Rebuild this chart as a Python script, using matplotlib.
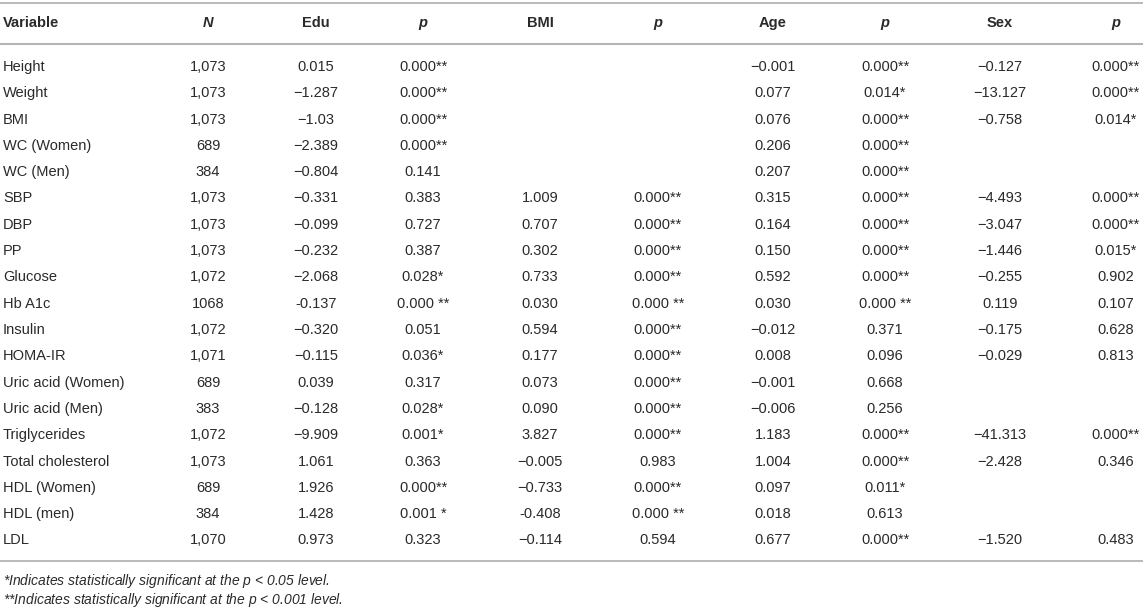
import matplotlib
matplotlib.use("Agg")
import matplotlib.pyplot as plt

variables = ["Height", "Weight", "BMI", "WC (Women)", "WC (Men)", "SBP", "DBP", "PP",
             "Glucose", "Hb A1c", "Insulin", "HOMA-IR", "Uric acid (Women)", "Uric acid (Men)",
             "Triglycerides", "Total cholesterol", "HDL (Women)", "HDL (men)", "LDL"]
n_vals = ["1,073", "1,073", "1,073", "689", "384", "1,073", "1,073", "1,073", "1,072", "1068",
          "1,072", "1,071", "689", "383", "1,072", "1,073", "689", "384", "1,070"]
edu = ["0.015", "\u22121.287", "\u22121.03", "\u22122.389", "\u22120.804", "\u22120.331", "\u22120.099",
       "\u22120.232", "\u22122.068", "-0.137", "\u22120.320", "\u22120.115", "0.039", "\u22120.128",
       "\u22129.909", "1.061", "1.926", "1.428", "0.973"]
edu_p = ["0.000**", "0.000**", "0.000**", "0.000**", "0.141", "0.383", "0.727", "0.387", "0.028*",
         "0.000 **", "0.051", "0.036*", "0.317", "0.028*", "0.001*", "0.363", "0.000**", "0.001 *", "0.323"]
bmi = ["", "", "", "", "", "1.009", "0.707", "0.302", "0.733", "0.030", "0.594", "0.177", "0.073",
       "0.090", "3.827", "\u22120.005", "\u22120.733", "-0.408", "\u22120.114"]
bmi_p = ["", "", "", "", "", "0.000**", "0.000**", "0.000**", "0.000**", "0.000 **", "0.000**",
         "0.000**", "0.000**", "0.000**", "0.000**", "0.983", "0.000**", "0.000 **", "0.594"]
age = ["\u22120.001", "0.077", "0.076", "0.206", "0.207", "0.315", "0.164", "0.150", "0.592", "0.030",
       "\u22120.012", "0.008", "\u22120.001", "\u22120.006", "1.183", "1.004", "0.097", "0.018", "0.677"]
age_p = ["0.000**", "0.014*", "0.000**", "0.000**", "0.000**", "0.000**", "0.000**", "0.000**",
         "0.000**", "0.000 **", "0.371", "0.096", "0.668", "0.256", "0.000**", "0.000**", "0.011*",
         "0.613", "0.000**"]
sex = ["\u22120.127", "\u221213.127", "\u22120.758", "", "", "\u22124.493", "\u22123.047", "\u22121.446",
       "\u22120.255", "0.119", "\u22120.175", "\u22120.029", "", "", "\u221241.313", "\u22122.428", "", "",
       "\u22121.520"]
sex_p = ["0.000**", "0.000**", "0.014*", "", "", "0.000**", "0.000**", "0.015*", "0.902", "0.107",
         "0.628", "0.813", "", "", "0.000**", "0.346", "", "", "0.483"]

headers = ["Variable", "N", "Edu", "p", "BMI", "p", "Age", "p", "Sex", "p"]
header_italic = [False, True, False, True, False, True, False, True, False, True]
footnotes = ["*Indicates statistically significant at the $p$ < 0.05 level.",
             "**Indicates statistically significant at the $p$ < 0.001 level."]

columns = [variables, n_vals, edu, edu_p, bmi, bmi_p, age, age_p, sex, sex_p]
col_x = [3, 208, 316, 423, 540, 658, 773, 885, 1000, 1116]

plt.rcParams['font.family'] = ['Liberation Sans', 'DejaVu Sans']
plt.rcParams['mathtext.fontset'] = 'custom'
plt.rcParams['mathtext.it'] = 'Liberation Sans:italic'
text_color = '#2a2a2a'
rule_color = '#b4b4b4'
fs = 10.5

fig = plt.figure(figsize=(11.43, 6.10), dpi=100)
ax = fig.add_axes([0, 0, 1, 1])
ax.set_xlim(0, 1143)
ax.set_ylim(610, 0)
ax.axis('off')

# rules
ax.plot([0, 1143], [3, 3], color=rule_color, lw=1.3)
ax.plot([0, 1143], [44, 44], color=rule_color, lw=1.5)
ax.plot([0, 1143], [561, 561], color=rule_color, lw=1.3)

# header
for j, (h, it) in enumerate(zip(headers, header_italic)):
    ha = 'left' if j == 0 else 'center'
    ax.text(col_x[j], 23, h, ha=ha, va='center', fontsize=fs, fontweight='bold',
            fontstyle='italic' if it else 'normal', color=text_color)

# body
row_h = 26.3
for i in range(len(variables)):
    y = 67 + i * row_h
    for j, col in enumerate(columns):
        ha = 'left' if j == 0 else 'center'
        ax.text(col_x[j], y, col[i], ha=ha, va='center', fontsize=fs, color=text_color)

# footnotes
for k, note in enumerate(footnotes):
    ax.text(3, 581 + k * 19, note, ha='left', va='center', fontsize=fs - 0.5,
            fontstyle='italic', color=text_color)

fig.savefig("out.png", dpi=100, facecolor='white')
